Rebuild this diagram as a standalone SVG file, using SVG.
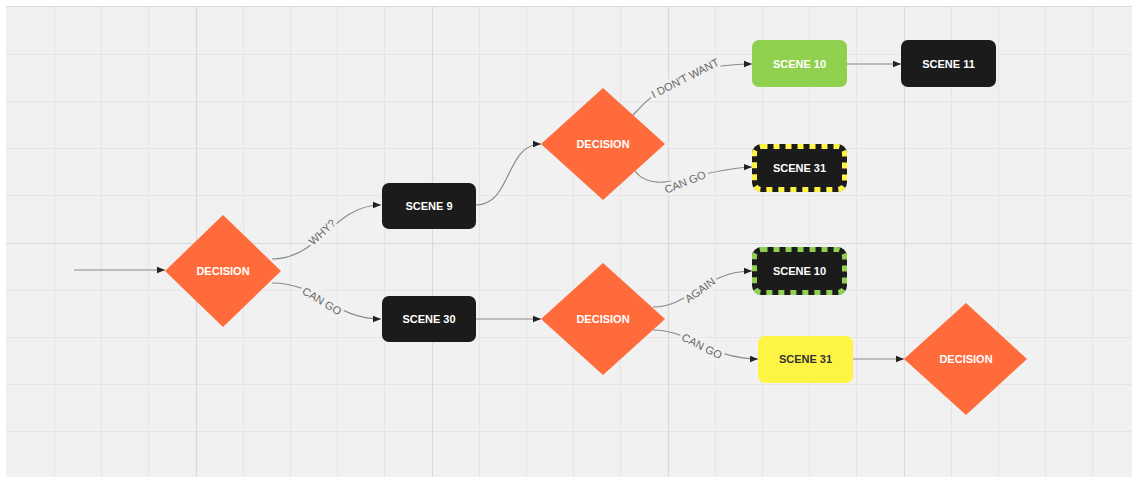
<svg xmlns="http://www.w3.org/2000/svg" width="1132" height="477" viewBox="0 0 1132 477">
<style>
.minor{stroke:#e5e5e5;stroke-width:1;fill:none}
.major{stroke:#d9d9d9;stroke-width:1.2;fill:none}
.dec{fill:#ff6b3a}
.blk{fill:#1b1b1b}
.nt{font-family:"Liberation Sans",Arial,sans-serif;font-size:11px;font-weight:bold;fill:#ffffff;text-anchor:middle;dominant-baseline:central}
.dark{fill:#333333}
.con{stroke:#8a8a8a;stroke-width:1.2;fill:none;marker-end:url(#arr)}
.lbl{font-family:"Liberation Sans",Arial,sans-serif;font-size:11px;fill:#666666;text-anchor:middle;dominant-baseline:central;stroke:#f1f1f1;stroke-width:6;paint-order:stroke;stroke-linejoin:round}
</style>
<defs>
<marker id="arr" viewBox="0 0 10 10" refX="10" refY="5" markerWidth="8" markerHeight="8" markerUnits="userSpaceOnUse" orient="auto">
<path d="M0,1 L10,5 L0,9 z" fill="#222"/>
</marker>
</defs>
<rect x="0" y="0" width="1132" height="477" fill="#ffffff"/>
<rect x="6" y="6" width="1126" height="471" fill="#f1f1f1"/>
<g id="grid">
<path class="minor" d="M54.5,6V477M101.5,6V477M148.5,6V477M243.5,6V477M290.5,6V477M337.5,6V477M384.5,6V477M479.5,6V477M526.5,6V477M573.5,6V477M620.5,6V477M715.5,6V477M762.5,6V477M809.5,6V477M856.5,6V477M951.5,6V477M998.5,6V477M1045.5,6V477M1092.5,6V477"/>
<path class="minor" d="M6,54.5H1132M6,101.5H1132M6,148.5H1132M6,195.5H1132M6,290.5H1132M6,337.5H1132M6,384.5H1132M6,431.5H1132"/>
<path class="major" d="M196.5,6V477M432.5,6V477M668.5,6V477M904.5,6V477M6,243.5H1132M6,6.5H1132"/>
</g>
<g id="connectors">
<path class="con" d="M74,270 H165"/>
<path class="con" d="M272,259 C320,259 333,205 381,205"/>
<path class="con" d="M272,283 C320,283 333,319 381,319"/>
<path class="con" d="M476,205 C512,205 505,144 541,144"/>
<path class="con" d="M476,319 H541"/>
<path class="con" d="M633,115 C660,85 690,64 752,64"/>
<path class="con" d="M635,171 C655,198 700,168 752,167"/>
<path class="con" d="M653,307 C690,307 705,271 752,271"/>
<path class="con" d="M653,330 C690,330 710,359 758,359"/>
<path class="con" d="M847,64 H901"/>
<path class="con" d="M853,359 H904"/>
<text class="lbl" transform="translate(322,232) rotate(-43)">WHY?</text>
<text class="lbl" transform="translate(322,301) rotate(31)">CAN GO</text>
<text class="lbl" transform="translate(685,78) rotate(-27)">I DON'T WANT</text>
<text class="lbl" transform="translate(685,182) rotate(-22)">CAN GO</text>
<text class="lbl" transform="translate(700,290) rotate(-36)">AGAIN</text>
<text class="lbl" transform="translate(702,346) rotate(27)">CAN GO</text>
</g>
<g id="decision1">
<polygon class="dec" points="223,215 281,271 223,327 165,271"/>
<text class="nt" x="223" y="271">DECISION</text>
</g>
<g id="scene9">
<rect class="blk" x="382" y="183" width="94" height="46" rx="7"/>
<text class="nt" x="429" y="206">SCENE 9</text>
</g>
<g id="scene30">
<rect class="blk" x="382" y="296" width="94" height="46" rx="7"/>
<text class="nt" x="429" y="319">SCENE 30</text>
</g>
<g id="decision2">
<polygon class="dec" points="603,88 665,144 603,200 541,144"/>
<text class="nt" x="603" y="144">DECISION</text>
</g>
<g id="decision3">
<polygon class="dec" points="603,263 665,319 603,375 541,319"/>
<text class="nt" x="603" y="319">DECISION</text>
</g>
<g id="scene10a">
<rect x="752" y="40" width="95" height="47" rx="7" fill="#8fd14f"/>
<text class="nt" x="799.5" y="64">SCENE 10</text>
</g>
<g id="scene11">
<rect class="blk" x="901" y="40" width="95" height="47" rx="7"/>
<text class="nt" x="948.5" y="64">SCENE 11</text>
</g>
<g id="scene31a">
<rect x="754.5" y="146.5" width="90" height="43" rx="7" fill="#1b1b1b" stroke="#1b1b1b" stroke-width="5"/>
<rect x="754.5" y="146.5" width="90" height="43" rx="7" fill="none" stroke="#fef445" stroke-width="5" stroke-dasharray="6 6"/>
<text class="nt" x="799.5" y="168">SCENE 31</text>
</g>
<g id="scene10b">
<rect x="754.5" y="249.5" width="90" height="43" rx="7" fill="#1b1b1b" stroke="#1b1b1b" stroke-width="5"/>
<rect x="754.5" y="249.5" width="90" height="43" rx="7" fill="none" stroke="#8fd14f" stroke-width="5" stroke-dasharray="6 6"/>
<text class="nt" x="799.5" y="271">SCENE 10</text>
</g>
<g id="scene31b">
<rect x="758" y="336" width="95" height="47" rx="7" fill="#fef445"/>
<text class="nt dark" x="805.5" y="359">SCENE 31</text>
</g>
<g id="decision4">
<polygon class="dec" points="966,303 1027,359 966,415 904,359"/>
<text class="nt" x="966" y="359">DECISION</text>
</g>
</svg>
